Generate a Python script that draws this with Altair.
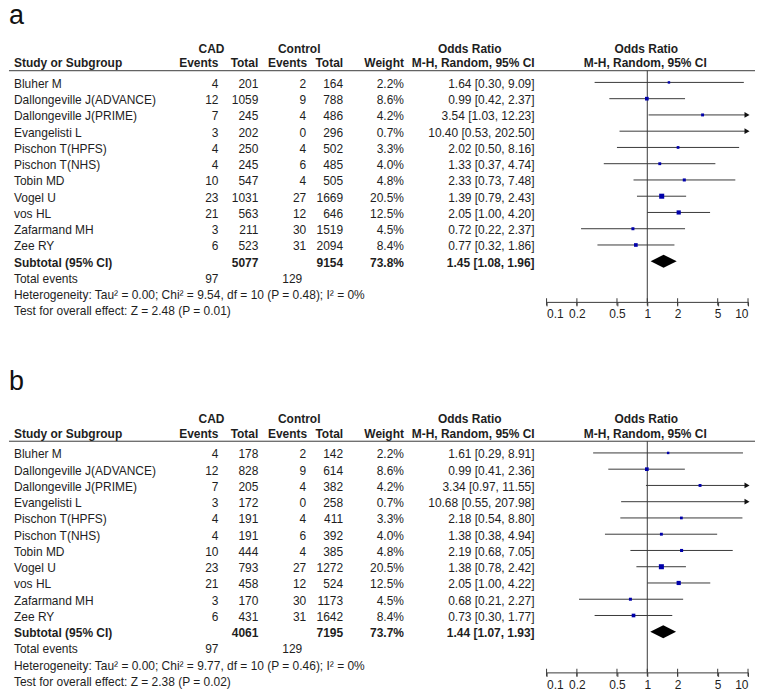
import altair as alt
import pandas as pd

# ---------------- data ----------------
studies = ["Bluher M", "Dallongeville J(ADVANCE)", "Dallongeville J(PRIME)", "Evangelisti L",
           "Pischon T(HPFS)", "Pischon T(NHS)", "Tobin MD", "Vogel U", "vos HL",
           "Zafarmand MH", "Zee RY"]
cad_events = [4, 12, 7, 3, 4, 4, 10, 23, 21, 3, 6]
ctrl_events = [2, 9, 4, 0, 4, 6, 4, 27, 12, 30, 31]

# panel a
a_cad_total = [201, 1059, 245, 202, 250, 245, 547, 1031, 563, 211, 523]
a_ctrl_total = [164, 788, 486, 296, 502, 485, 505, 1669, 646, 1519, 2094]
a_weight = [2.2, 8.6, 4.2, 0.7, 3.3, 4.0, 4.8, 20.5, 12.5, 4.5, 8.4]
a_or = [1.64, 0.99, 3.54, 10.40, 2.02, 1.33, 2.33, 1.39, 2.05, 0.72, 0.77]
a_lo = [0.30, 0.42, 1.03, 0.53, 0.50, 0.37, 0.73, 0.79, 1.00, 0.22, 0.32]
a_hi = [9.09, 2.37, 12.23, 202.50, 8.16, 4.74, 7.48, 2.43, 4.20, 2.37, 1.86]
a_subtotal = [5077, 9154, 73.8, 1.45, 1.08, 1.96]
a_total_events = [97, 129]
a_het = "Heterogeneity: Tau\u00b2 = 0.00; Chi\u00b2 = 9.54, df = 10 (P = 0.48); I\u00b2 = 0%"
a_test = "Test for overall effect: Z = 2.48 (P = 0.01)"

# panel b
b_cad_total = [178, 828, 205, 172, 191, 191, 444, 793, 458, 170, 431]
b_ctrl_total = [142, 614, 382, 258, 411, 392, 385, 1272, 524, 1173, 1642]
b_weight = [2.2, 8.6, 4.2, 0.7, 3.3, 4.0, 4.8, 20.5, 12.5, 4.5, 8.4]
b_or = [1.61, 0.99, 3.34, 10.68, 2.18, 1.38, 2.19, 1.38, 2.05, 0.68, 0.73]
b_lo = [0.29, 0.41, 0.97, 0.55, 0.54, 0.38, 0.68, 0.78, 1.00, 0.21, 0.30]
b_hi = [8.91, 2.36, 11.55, 207.98, 8.80, 4.94, 7.05, 2.42, 4.22, 2.27, 1.77]
b_subtotal = [4061, 7195, 73.7, 1.44, 1.07, 1.93]
b_total_events = [97, 129]
b_het = "Heterogeneity: Tau\u00b2 = 0.00; Chi\u00b2 = 9.77, df = 10 (P = 0.46); I\u00b2 = 0%"
b_test = "Test for overall effect: Z = 2.38 (P = 0.02)"

tick_values = [0.1, 0.2, 0.5, 1, 2, 5, 10]

# ---------------- layout / style ----------------
FONT = "Liberation Sans"
TXT = "#1e1e1e"
LINE = "#3a3a3a"
BLUE = "#0000aa"
W = 748
STEP = 16.3
ROW_HEAD1 = -2.07
ROW_HEAD2 = -1.17
ROW_RULE = -0.72
ROW_AXIS = 13.5
XSCALE = alt.Scale(type="log", domain=[0.1, 10], range=[539, 741], nice=False)

COLS = {"study": (5, "left"), "ce": (210, "right"), "ct": (250, "right"),
        "ke": (298, "right"), "ket": (294, "right"), "kt": (335, "right"),
        "w": (396, "right"), "or": (527, "right")}

HEADERS = [(ROW_HEAD1, "CAD", 203, "center"), (ROW_HEAD1, "Control", 291, "center"),
           (ROW_HEAD1, "Odds Ratio", 462, "center"), (ROW_HEAD1, "Odds Ratio", 639, "center"),
           (ROW_HEAD2, "Study or Subgroup", 5, "left"), (ROW_HEAD2, "Events", 210, "right"),
           (ROW_HEAD2, "Total", 250, "right"), (ROW_HEAD2, "Events", 299, "right"),
           (ROW_HEAD2, "Total", 335, "right"), (ROW_HEAD2, "Weight", 396, "right"),
           (ROW_HEAD2, "M-H, Random, 95% CI", 527, "right"),
           (ROW_HEAD2, "M-H, Random, 95% CI", 638, "center")]


def fmt_ci(o, l, h):
    return f"{o:.2f} [{l:.2f}, {h:.2f}]"


def panel(label, label_row, cad_total, ctrl_total, weight, est, lo, hi, subtotal,
          total_events, het, test, height, row0):
    ys = alt.Scale(domain=[-row0 / STEP, (height - row0) / STEP], reverse=True,
                   nice=False, zero=False)
    off = -(height - (row0 + ROW_AXIS * STEP))
    xaxis = alt.Axis(values=tick_values, format="~g", title=None, offset=off,
                     grid=False, domainColor=LINE, domainWidth=1, tickColor=LINE,
                     tickSize=4, tickWidth=1, labelFont=FONT, labelFontSize=12,
                     labelColor=TXT, labelPadding=3, labelFlush=True,
                     labelOverlap=False)

    def X(field):
        return alt.X(field, scale=XSCALE, axis=xaxis)

    def Y(field):
        return alt.Y(field, scale=ys, axis=None)

    n = len(studies)
    sdf = pd.DataFrame({"row": list(range(n)), "est": est, "lo": lo, "hi": hi, "w": weight})

    layers = []
    # confidence intervals
    layers.append(alt.Chart(sdf).transform_calculate(hic="min(datum.hi, 10)")
                  .mark_rule(color=LINE, strokeWidth=1).encode(
        x=X("lo:Q"), x2="hic:Q", y=Y("row:Q")))
    # header underline
    layers.append(alt.Chart(pd.DataFrame({"r": [ROW_RULE]})).mark_rule(
        color=LINE, strokeWidth=1).encode(x=alt.value(0), x2=alt.value(W), y=Y("r:Q")))
    # line of no effect
    layers.append(alt.Chart(pd.DataFrame({"x": [1], "y1": [ROW_RULE], "y2": [ROW_AXIS]}))
                  .mark_rule(color=LINE, strokeWidth=1).encode(
        x=X("x:Q"), y=Y("y1:Q"), y2="y2:Q"))
    # arrows for CIs beyond the axis
    layers.append(alt.Chart(sdf).transform_filter("datum.hi > 10")
                  .transform_calculate(hic="min(datum.hi, 10)")
                  .mark_point(shape="triangle-right", filled=True, size=34, color="#111111",
                              opacity=1, xOffset=-1).encode(x=X("hic:Q"), y=Y("row:Q")))
    # study squares
    layers.append(alt.Chart(sdf).transform_filter("datum.est <= 10")
                  .transform_calculate(sz="pow(1.2 + 0.85 * sqrt(datum.w), 2)")
                  .mark_square(filled=True, color=BLUE, opacity=1).encode(
        x=X("est:Q"), y=Y("row:Q"), size=alt.Size("sz:Q", scale=None)))
    # pooled diamond
    ddf = pd.DataFrame({"x": subtotal[4:5] + subtotal[3:4] + subtotal[5:6], "k": [0, 1, 0]})
    layers.append(alt.Chart(ddf).transform_calculate(
        yt=f"{n} - 0.4 * datum.k", yb=f"{n} + 0.4 * datum.k")
        .mark_area(color="black", orient="vertical", opacity=1).encode(
        x=X("x:Q"), y=Y("yt:Q"), y2="yb:Q"))
    # axis ticks crossing the axis line
    layers.append(alt.Chart(pd.DataFrame({"t": tick_values}))
                  .transform_calculate(ry=str(ROW_AXIS))
                  .mark_tick(orient="vertical", size=7.5, thickness=1, color=LINE, opacity=1)
                  .encode(x=X("t:Q"), y=Y("ry:Q")))

    # table cells
    cells = []
    for i, s in enumerate(studies):
        cells += [(i, "study", s, False), (i, "ce", str(cad_events[i]), False),
                  (i, "ct", str(cad_total[i]), False), (i, "ke", str(ctrl_events[i]), False),
                  (i, "kt", str(ctrl_total[i]), False), (i, "w", f"{weight[i]:.1f}%", False),
                  (i, "or", fmt_ci(est[i], lo[i], hi[i]), False)]
    r = n
    cells += [(r, "study", "Subtotal (95% CI)", True), (r, "ct", str(subtotal[0]), True),
              (r, "kt", str(subtotal[1]), True), (r, "w", f"{subtotal[2]:.1f}%", True),
              (r, "or", fmt_ci(*subtotal[3:6]), True)]
    cells += [(r + 1, "study", "Total events", False), (r + 1, "ce", str(total_events[0]), False),
              (r + 1, "ket", str(total_events[1]), False),
              (r + 2, "study", het, False), (r + 3, "study", test, False)]
    cdf = pd.DataFrame(cells, columns=["row", "col", "txt", "bold"])
    for (col, bold), sub in cdf.groupby(["col", "bold"]):
        xpx, align = COLS[col]
        layers.append(alt.Chart(sub).mark_text(
            align=align, baseline="middle", font=FONT, fontSize=12,
            fontWeight="bold" if bold else "normal", color=TXT, dy=1.5).encode(
            x=alt.value(xpx), y=Y("row:Q"), text="txt:N"))
    # headers
    for hrow, htxt, hx, halign in HEADERS:
        layers.append(alt.Chart(pd.DataFrame({"row": [hrow], "txt": [htxt]})).mark_text(
            align=halign, baseline="middle", font=FONT, fontSize=12, fontWeight="bold",
            color=TXT).encode(x=alt.value(hx), y=Y("row:Q"), text="txt:N"))
    # panel label
    layers.append(alt.Chart(pd.DataFrame({"row": [label_row], "txt": [label]})).mark_text(
        align="left", baseline="alphabetic", font=FONT, fontSize=27, color="#111111",
        clip=True).encode(x=alt.value(0), y=Y("row:Q"), text="txt:N"))

    return alt.layer(*layers).properties(width=W, height=height)


pa = panel("a", -3.58, a_cad_total, a_ctrl_total, a_weight, a_or, a_lo, a_hi, a_subtotal,
           a_total_events, a_het, a_test, height=346, row0=73.7)
pb = panel("b", -3.88, b_cad_total, b_ctrl_total, b_weight, b_or, b_lo, b_hi, b_subtotal,
           b_total_events, b_het, b_test, height=334, row0=99.2)

chart = alt.vconcat(pa, pb, spacing=0).properties(padding=0, bounds="flush").configure_view(
    stroke=None)

chart.save("out.html", embed_options={"renderer": "svg", "actions": False})
